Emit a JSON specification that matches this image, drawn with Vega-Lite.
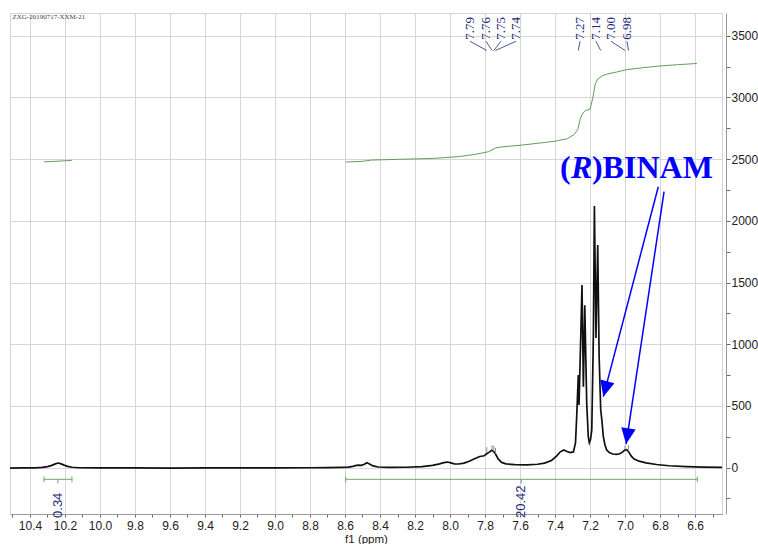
{
  "$schema": "https://vega.github.io/schema/vega-lite/v6.json",
  "width": 712,
  "height": 501,
  "autosize": {"type": "none"},
  "padding": {"left": 10, "top": 13, "right": 36, "bottom": 30},
  "background": "white",
  "view": {"stroke": "#d4d4d4", "strokeWidth": 1},
  "config": {"font": "Liberation Sans"},
  "data": {"values": [{}]},
  "datasets": {
    "spectrum": [
      {"ppm": 10.514, "v": -4}, {"ppm": 10.45, "v": -3}, {"ppm": 10.37, "v": -2}, {"ppm": 10.33, "v": 2},
      {"ppm": 10.30, "v": 8}, {"ppm": 10.275, "v": 18}, {"ppm": 10.255, "v": 30}, {"ppm": 10.24, "v": 37},
      {"ppm": 10.225, "v": 32}, {"ppm": 10.205, "v": 20}, {"ppm": 10.185, "v": 10}, {"ppm": 10.16, "v": 3},
      {"ppm": 10.12, "v": -1}, {"ppm": 10.0, "v": -3}, {"ppm": 9.8, "v": -3}, {"ppm": 9.6, "v": -4},
      {"ppm": 9.4, "v": -3}, {"ppm": 9.2, "v": -3}, {"ppm": 9.0, "v": -2}, {"ppm": 8.8, "v": -1},
      {"ppm": 8.7, "v": 0}, {"ppm": 8.62, "v": 2}, {"ppm": 8.58, "v": 4}, {"ppm": 8.555, "v": 10},
      {"ppm": 8.535, "v": 18}, {"ppm": 8.52, "v": 20}, {"ppm": 8.505, "v": 18}, {"ppm": 8.49, "v": 28},
      {"ppm": 8.475, "v": 40}, {"ppm": 8.46, "v": 30}, {"ppm": 8.44, "v": 14}, {"ppm": 8.41, "v": 5},
      {"ppm": 8.35, "v": 2}, {"ppm": 8.25, "v": 3}, {"ppm": 8.16, "v": 8}, {"ppm": 8.10, "v": 18},
      {"ppm": 8.06, "v": 30}, {"ppm": 8.035, "v": 40}, {"ppm": 8.015, "v": 45}, {"ppm": 7.995, "v": 38},
      {"ppm": 7.975, "v": 30}, {"ppm": 7.95, "v": 29}, {"ppm": 7.92, "v": 36}, {"ppm": 7.89, "v": 52},
      {"ppm": 7.86, "v": 72}, {"ppm": 7.83, "v": 90}, {"ppm": 7.805, "v": 96}, {"ppm": 7.79, "v": 112},
      {"ppm": 7.775, "v": 125}, {"ppm": 7.762, "v": 140}, {"ppm": 7.752, "v": 132}, {"ppm": 7.74, "v": 110},
      {"ppm": 7.725, "v": 70}, {"ppm": 7.705, "v": 42}, {"ppm": 7.68, "v": 30}, {"ppm": 7.63, "v": 24},
      {"ppm": 7.56, "v": 22}, {"ppm": 7.50, "v": 27}, {"ppm": 7.46, "v": 36}, {"ppm": 7.42, "v": 58},
      {"ppm": 7.39, "v": 95}, {"ppm": 7.37, "v": 128}, {"ppm": 7.35, "v": 143}, {"ppm": 7.335, "v": 132},
      {"ppm": 7.314, "v": 121}, {"ppm": 7.295, "v": 127}, {"ppm": 7.283, "v": 200}, {"ppm": 7.276, "v": 420},
      {"ppm": 7.267, "v": 750}, {"ppm": 7.263, "v": 507}, {"ppm": 7.253, "v": 1061}, {"ppm": 7.246, "v": 1480},
      {"ppm": 7.238, "v": 656}, {"ppm": 7.230, "v": 1315}, {"ppm": 7.219, "v": 523}, {"ppm": 7.210, "v": 250},
      {"ppm": 7.204, "v": 202}, {"ppm": 7.197, "v": 230}, {"ppm": 7.190, "v": 305}, {"ppm": 7.181, "v": 1061},
      {"ppm": 7.175, "v": 2120}, {"ppm": 7.166, "v": 1050}, {"ppm": 7.156, "v": 1803}, {"ppm": 7.148, "v": 900},
      {"ppm": 7.139, "v": 467}, {"ppm": 7.132, "v": 380}, {"ppm": 7.124, "v": 250}, {"ppm": 7.115, "v": 185},
      {"ppm": 7.105, "v": 143}, {"ppm": 7.09, "v": 122}, {"ppm": 7.07, "v": 110}, {"ppm": 7.05, "v": 108},
      {"ppm": 7.03, "v": 112}, {"ppm": 7.015, "v": 125}, {"ppm": 7.002, "v": 142}, {"ppm": 6.99, "v": 146},
      {"ppm": 6.978, "v": 125}, {"ppm": 6.965, "v": 95}, {"ppm": 6.95, "v": 72}, {"ppm": 6.92, "v": 52},
      {"ppm": 6.88, "v": 38}, {"ppm": 6.82, "v": 25}, {"ppm": 6.75, "v": 15}, {"ppm": 6.65, "v": 8},
      {"ppm": 6.55, "v": 4}, {"ppm": 6.446, "v": 2}
    ],
    "integral": [
      {"seg": 1, "ppm": 10.32, "v": 2478}, {"seg": 1, "ppm": 10.24, "v": 2483}, {"seg": 1, "ppm": 10.16, "v": 2490},
      {"seg": 2, "ppm": 8.596, "v": 2476}, {"seg": 2, "ppm": 8.5, "v": 2482}, {"seg": 2, "ppm": 8.45, "v": 2492},
      {"seg": 2, "ppm": 8.3, "v": 2498}, {"seg": 2, "ppm": 8.1, "v": 2505}, {"seg": 2, "ppm": 7.95, "v": 2520},
      {"seg": 2, "ppm": 7.85, "v": 2540}, {"seg": 2, "ppm": 7.78, "v": 2560}, {"seg": 2, "ppm": 7.74, "v": 2590},
      {"seg": 2, "ppm": 7.7, "v": 2600}, {"seg": 2, "ppm": 7.6, "v": 2612}, {"seg": 2, "ppm": 7.5, "v": 2628},
      {"seg": 2, "ppm": 7.4, "v": 2645}, {"seg": 2, "ppm": 7.33, "v": 2665}, {"seg": 2, "ppm": 7.29, "v": 2700},
      {"seg": 2, "ppm": 7.27, "v": 2740}, {"seg": 2, "ppm": 7.255, "v": 2830}, {"seg": 2, "ppm": 7.24, "v": 2875},
      {"seg": 2, "ppm": 7.225, "v": 2895}, {"seg": 2, "ppm": 7.2, "v": 2905}, {"seg": 2, "ppm": 7.185, "v": 2990},
      {"seg": 2, "ppm": 7.17, "v": 3110}, {"seg": 2, "ppm": 7.155, "v": 3150}, {"seg": 2, "ppm": 7.13, "v": 3175},
      {"seg": 2, "ppm": 7.1, "v": 3190}, {"seg": 2, "ppm": 7.05, "v": 3205}, {"seg": 2, "ppm": 6.99, "v": 3225},
      {"seg": 2, "ppm": 6.9, "v": 3240}, {"seg": 2, "ppm": 6.8, "v": 3255}, {"seg": 2, "ppm": 6.7, "v": 3265},
      {"seg": 2, "ppm": 6.59, "v": 3275}
    ],
    "peaks": [
      {"t": "7.79", "pk": 7.79, "at": 7.886}, {"t": "7.76", "pk": 7.76, "at": 7.794},
      {"t": "7.75", "pk": 7.75, "at": 7.709}, {"t": "7.74", "pk": 7.74, "at": 7.623},
      {"t": "7.27", "pk": 7.267, "at": 7.257}, {"t": "7.14", "pk": 7.139, "at": 7.166},
      {"t": "7.00", "pk": 7.0, "at": 7.08}, {"t": "6.98", "pk": 6.98, "at": 6.989}
    ],
    "picks": [
      {"ppm": 7.79, "lo": 118, "hi": 165}, {"ppm": 7.76, "lo": 142, "hi": 182},
      {"ppm": 7.75, "lo": 136, "hi": 176}, {"ppm": 7.74, "lo": 114, "hi": 160},
      {"ppm": 7.0, "lo": 146, "hi": 180}, {"ppm": 6.98, "lo": 146, "hi": 180}
    ],
    "integrals": [
      {"lo": 10.32, "hi": 10.16, "mid": 10.24, "t": "0.34"},
      {"lo": 8.596, "hi": 6.587, "mid": 7.593, "t": "20.42"}
    ]
  },
  "layer": [
    {
      "data": {"name": "spectrum"},
      "mark": {"type": "line", "color": "#111111", "strokeWidth": 1.7, "strokeJoin": "miter"},
      "encoding": {
        "x": {
          "field": "ppm", "type": "quantitative",
          "scale": {"domain": [6.446, 10.514], "reverse": true, "nice": false, "zero": false},
          "axis": {
            "title": "f1 (ppm)",
            "values": [6.5, 6.6, 6.7, 6.8, 6.9, 7.0, 7.1, 7.2, 7.3, 7.4, 7.5, 7.6, 7.7, 7.8, 7.9, 8.0, 8.1, 8.2, 8.3, 8.4, 8.5, 8.6, 8.7, 8.8, 8.9, 9.0, 9.1, 9.2, 9.3, 9.4, 9.5, 9.6, 9.7, 9.8, 9.9, 10.0, 10.1, 10.2, 10.3, 10.4, 10.5],
            "tickCount": 100,
            "labelExpr": "round(datum.value * 10) % 2 == 0 ? format(datum.value, '.1f') : ''",
            "grid": true,
            "gridColor": "#d6d6d6",
            "gridOpacity": {"condition": {"test": "round(datum.value * 10) % 2 != 0", "value": 0}, "value": 1},
            "tickSize": 3,
            "tickColor": "#666666",
            "domainColor": "#999999",
            "labelFont": "Liberation Sans",
            "labelFontSize": 12,
            "labelColor": "#222222",
            "labelPadding": 3,
            "labelOverlap": false,
            "labelFlush": false,
            "titleFont": "Liberation Sans",
            "titleFontSize": 11.5,
            "titleFontWeight": "normal",
            "titleColor": "#222222",
            "titleBaseline": "alphabetic",
            "titleY": 28
          }
        },
        "y": {
          "field": "v", "type": "quantitative",
          "scale": {"domain": [-376, 3684], "nice": false, "zero": false},
          "axis": {
            "orient": "right",
            "title": null,
            "values": [-250, 0, 250, 500, 750, 1000, 1250, 1500, 1750, 2000, 2250, 2500, 2750, 3000, 3250, 3500],
            "tickCount": 100,
            "format": "d",
            "labelExpr": "datum.value % 500 == 0 ? datum.label : ''",
            "grid": true,
            "gridColor": "#d6d6d6",
            "gridOpacity": {"condition": {"test": "datum.value % 500 != 0", "value": 0}, "value": 1},
            "tickSize": 4,
            "tickColor": "#666666",
            "domainColor": "#999999",
            "offset": 4,
            "labelFont": "Liberation Sans",
            "labelFontSize": 12,
            "labelColor": "#222222",
            "labelPadding": 1,
            "labelOverlap": false
          }
        }
      }
    },
    {
      "data": {"name": "integral"},
      "mark": {"type": "line", "color": "#5f9f58", "strokeWidth": 1},
      "encoding": {
        "x": {"field": "ppm", "type": "quantitative"},
        "y": {"field": "v", "type": "quantitative"},
        "detail": {"field": "seg"}
      }
    },
    {
      "data": {"name": "picks"},
      "mark": {"type": "rule", "color": "#8a8a8a", "strokeWidth": 1},
      "encoding": {
        "x": {"field": "ppm", "type": "quantitative"},
        "y": {"field": "lo", "type": "quantitative"},
        "y2": {"field": "hi"}
      }
    },
    {
      "data": {"name": "peaks"},
      "mark": {"type": "rule", "color": "#1f2a7a", "strokeWidth": 0.8},
      "encoding": {
        "x": {"field": "at", "type": "quantitative"},
        "x2": {"field": "pk"},
        "y": {"datum": 3455, "type": "quantitative"},
        "y2": {"datum": 3380}
      }
    },
    {
      "data": {"name": "peaks"},
      "mark": {"type": "text", "angle": 270, "align": "left", "baseline": "middle", "font": "Liberation Serif", "fontSize": 13, "color": "#1f2a7a"},
      "encoding": {
        "x": {"field": "at", "type": "quantitative"},
        "y": {"datum": 3468, "type": "quantitative"},
        "text": {"field": "t"}
      }
    },
    {
      "data": {"name": "integrals"},
      "mark": {"type": "rule", "color": "#6aaa64", "strokeWidth": 1},
      "encoding": {
        "x": {"field": "lo", "type": "quantitative"},
        "x2": {"field": "hi"},
        "y": {"datum": -95, "type": "quantitative"}
      }
    },
    {
      "data": {"name": "integrals"},
      "mark": {"type": "rule", "color": "#6aaa64", "strokeWidth": 1},
      "encoding": {
        "x": {"field": "lo", "type": "quantitative"},
        "y": {"datum": -72, "type": "quantitative"},
        "y2": {"datum": -118}
      }
    },
    {
      "data": {"name": "integrals"},
      "mark": {"type": "rule", "color": "#6aaa64", "strokeWidth": 1},
      "encoding": {
        "x": {"field": "hi", "type": "quantitative"},
        "y": {"datum": -72, "type": "quantitative"},
        "y2": {"datum": -118}
      }
    },
    {
      "data": {"name": "integrals"},
      "mark": {"type": "rule", "color": "#7f8f9f", "strokeWidth": 1},
      "encoding": {
        "x": {"field": "mid", "type": "quantitative"},
        "y": {"datum": -95, "type": "quantitative"},
        "y2": {"datum": -128}
      }
    },
    {
      "data": {"name": "integrals"},
      "mark": {"type": "text", "angle": 270, "align": "left", "baseline": "middle", "font": "Liberation Sans", "fontSize": 13, "color": "#1f2a7a"},
      "encoding": {
        "x": {"field": "mid", "type": "quantitative"},
        "y": {"datum": -408, "type": "quantitative"},
        "text": {"field": "t"}
      }
    },
    {
      "mark": {"type": "text", "align": "left", "baseline": "middle", "font": "Liberation Serif", "fontSize": 7, "color": "#444444", "text": "ZXG-20190717-XXM-21"},
      "encoding": {
        "x": {"datum": 10.50, "type": "quantitative"},
        "y": {"datum": 3650, "type": "quantitative"}
      }
    },
    {
      "mark": {"type": "text", "align": "left", "baseline": "alphabetic", "font": "Liberation Serif", "fontSize": 32, "fontWeight": "bold", "color": "#0000ff", "text": "("},
      "encoding": {
        "x": {"datum": 7.371, "type": "quantitative"},
        "y": {"datum": 2347, "type": "quantitative"}
      }
    },
    {
      "mark": {"type": "text", "align": "left", "baseline": "alphabetic", "font": "Liberation Serif", "fontSize": 32, "fontWeight": "bold", "fontStyle": "italic", "color": "#0000ff", "text": "R"},
      "encoding": {
        "x": {"datum": 7.309, "type": "quantitative"},
        "y": {"datum": 2347, "type": "quantitative"}
      }
    },
    {
      "mark": {"type": "text", "align": "left", "baseline": "alphabetic", "font": "Liberation Serif", "fontSize": 32, "fontWeight": "bold", "color": "#0000ff", "text": ")BINAM"},
      "encoding": {
        "x": {"datum": 7.189, "type": "quantitative"},
        "y": {"datum": 2347, "type": "quantitative"}
      }
    },
    {
      "mark": {"type": "rule", "color": "#0000ff", "strokeWidth": 1.5},
      "encoding": {
        "x": {"datum": 6.81, "type": "quantitative"},
        "y": {"datum": 2276, "type": "quantitative"},
        "x2": {"datum": 7.124},
        "y2": {"datum": 575}
      }
    },
    {
      "mark": {"type": "rule", "color": "#0000ff", "strokeWidth": 1.5},
      "encoding": {
        "x": {"datum": 6.777, "type": "quantitative"},
        "y": {"datum": 2236, "type": "quantitative"},
        "x2": {"datum": 6.994},
        "y2": {"datum": 191}
      }
    },
    {
      "mark": {"type": "point", "shape": "M0,0L-0.55,-1.2L0.55,-1.2Z", "filled": true, "color": "#0000ff", "opacity": 1, "size": 700, "angle": 14.7, "strokeWidth": 0},
      "encoding": {
        "x": {"datum": 7.124, "type": "quantitative"},
        "y": {"datum": 575, "type": "quantitative"}
      }
    },
    {
      "mark": {"type": "point", "shape": "M0,0L-0.55,-1.2L0.55,-1.2Z", "filled": true, "color": "#0000ff", "opacity": 1, "size": 700, "angle": 8.6, "strokeWidth": 0},
      "encoding": {
        "x": {"datum": 6.994, "type": "quantitative"},
        "y": {"datum": 191, "type": "quantitative"}
      }
    }
  ]
}
